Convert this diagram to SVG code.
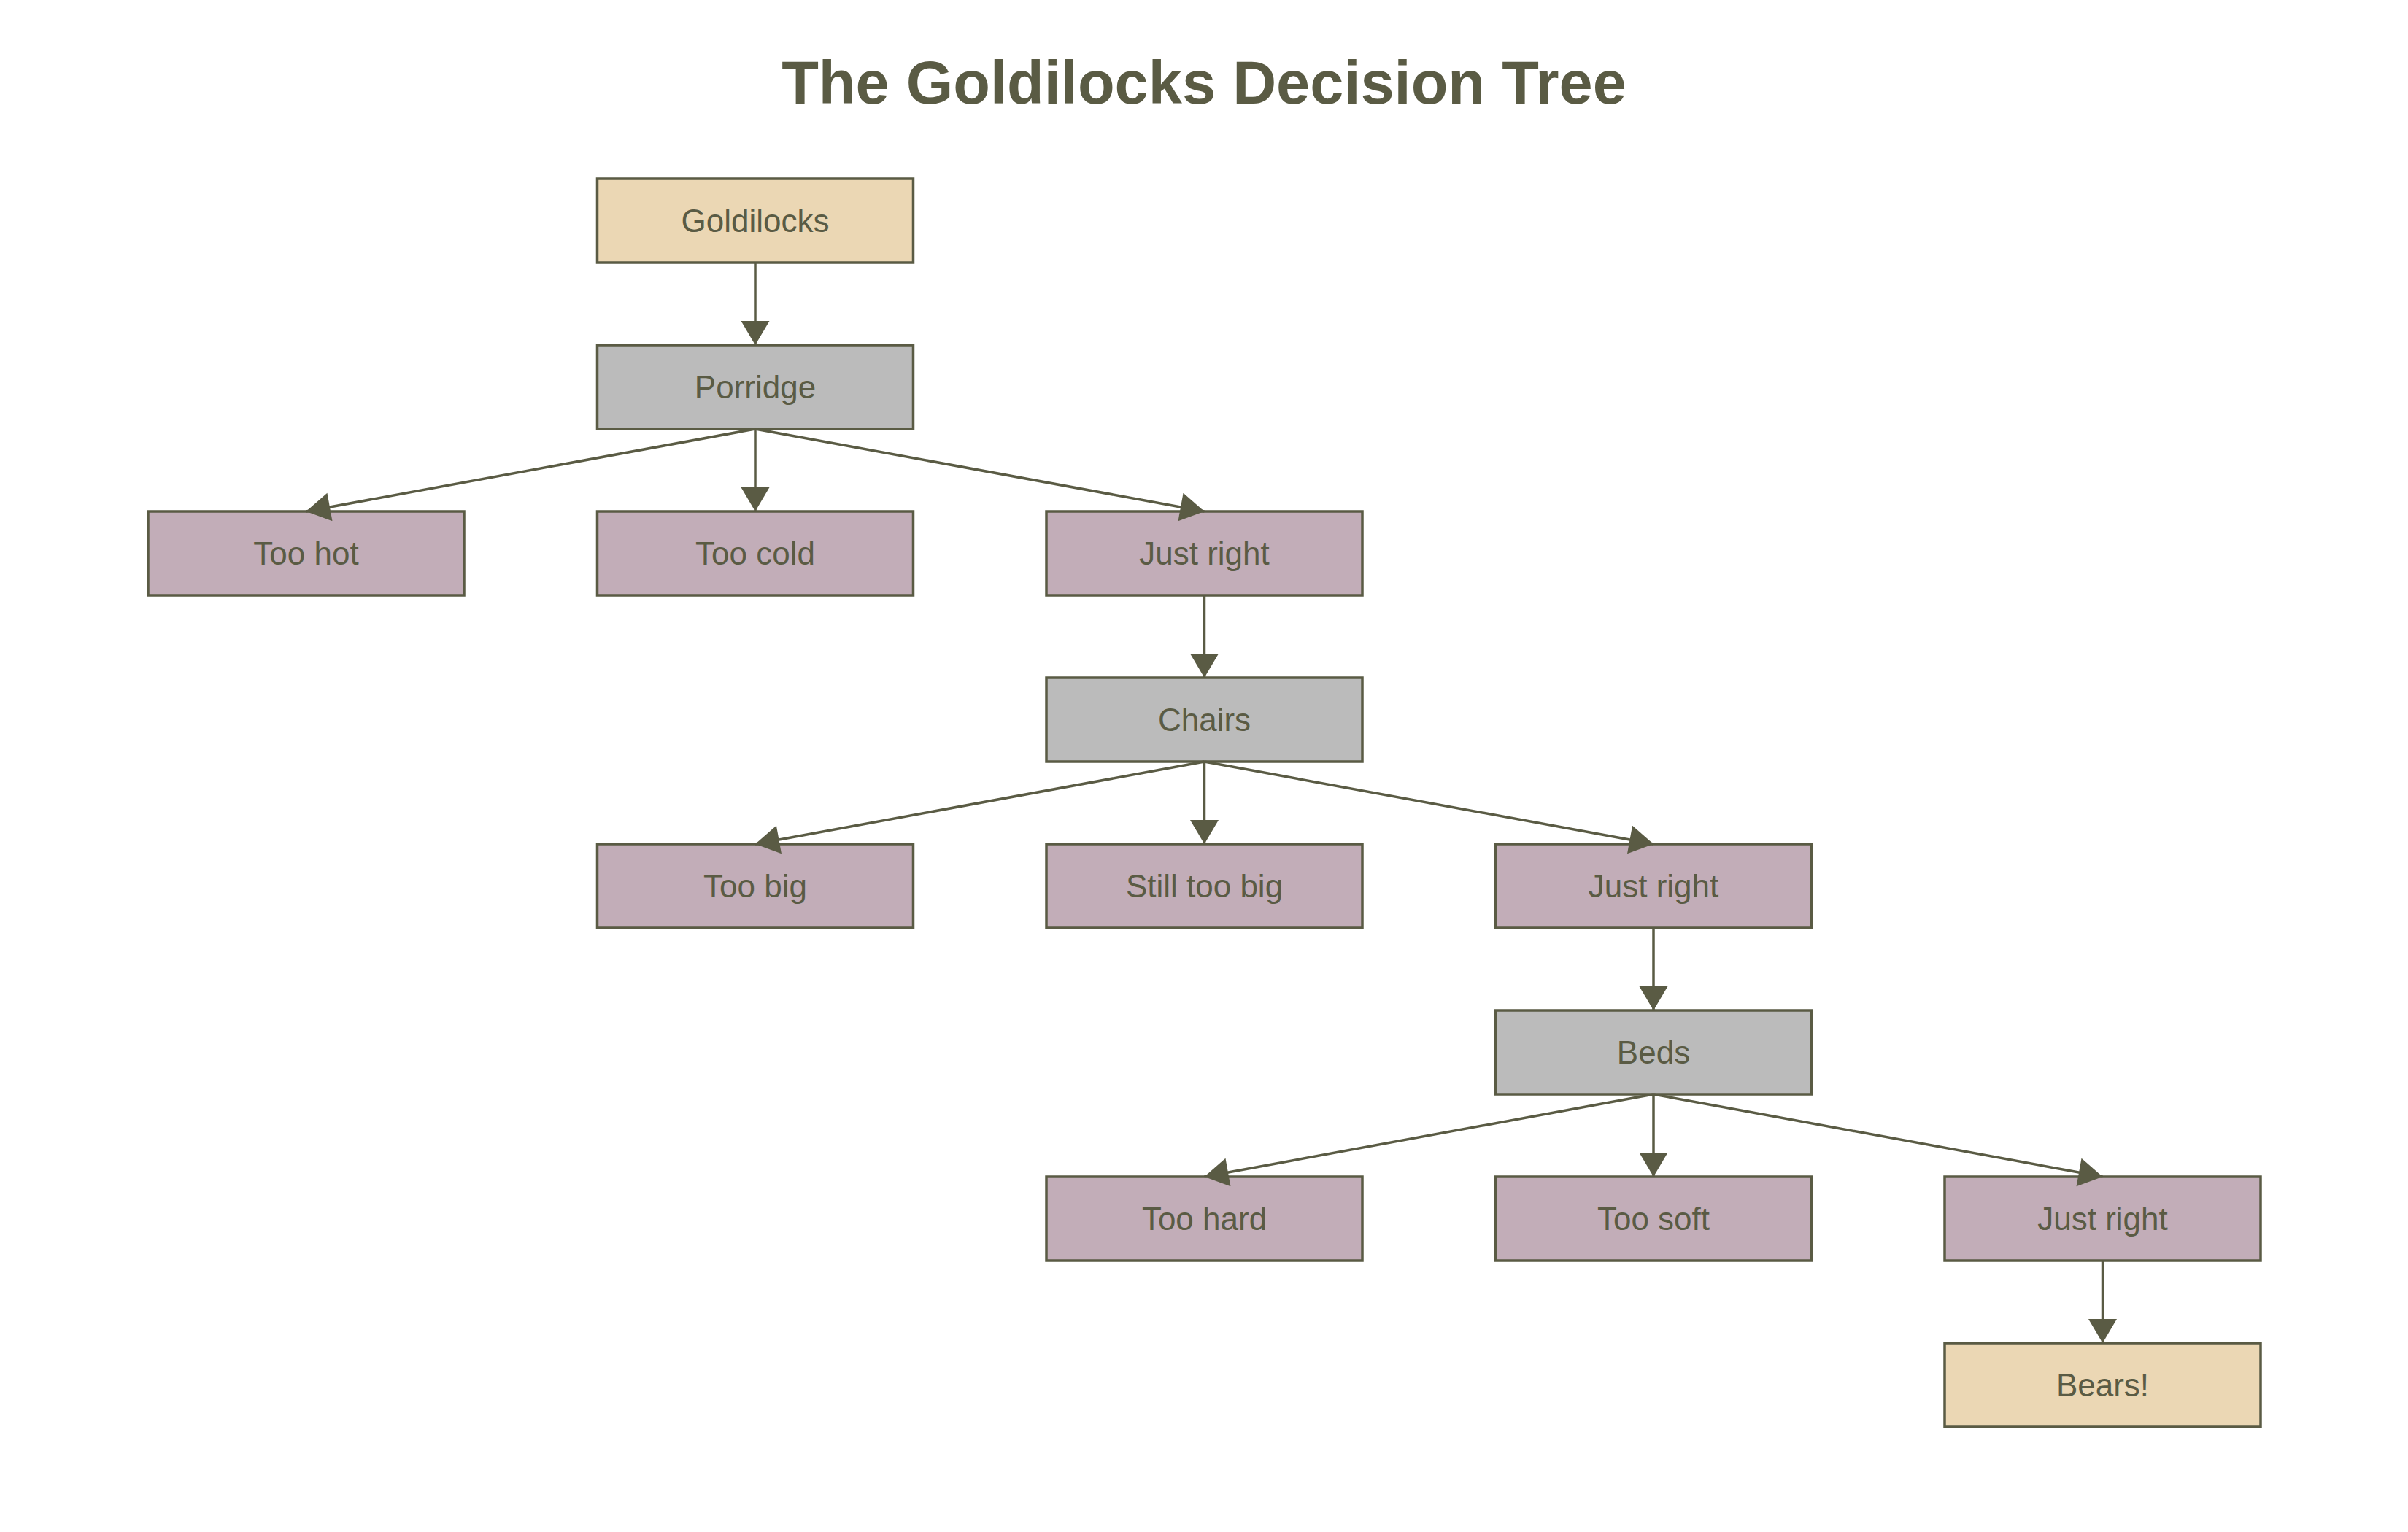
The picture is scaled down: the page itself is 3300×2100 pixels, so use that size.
<svg xmlns="http://www.w3.org/2000/svg" width="3300" height="2100" viewBox="0 0 3300 2100">
<style>
.n rect{stroke:#5a5b44;stroke-width:3.5}
.start rect{fill:#ebd7b4}
.cat rect{fill:#bbbbbb}
.opt rect{fill:#c2adb8}
.n text{font-family:"Liberation Sans",Arial,sans-serif;font-size:44px;fill:#5a5b44;text-anchor:middle}
.e line{stroke:#5a5b44;stroke-width:3.5;fill:none}
.title{font-family:"Liberation Sans",Arial,sans-serif;font-size:83px;font-weight:bold;fill:#5a5b44;text-anchor:middle}
</style>
<defs>
<marker id="ah" markerUnits="userSpaceOnUse" markerWidth="40" markerHeight="40" refX="33" refY="19.5" orient="auto" viewBox="0 0 34 40">
<path d="M0,0 L33,19.5 L0,39 Z" fill="#5a5b44"/>
</marker>
</defs>
<rect width="3300" height="2100" fill="#ffffff"/>
<text class="title" x="1650" y="142">The Goldilocks Decision Tree</text>
<g id="goldilocks" class="n start"><rect x="818.5" y="245" width="433" height="115"/><text x="1035" y="318">Goldilocks</text></g>
<g id="porridge" class="n cat"><rect x="818.5" y="473" width="433" height="115"/><text x="1035" y="546">Porridge</text></g>
<g id="too-hot" class="n opt"><rect x="203" y="701" width="433" height="115"/><text x="419.5" y="774">Too hot</text></g>
<g id="too-cold" class="n opt"><rect x="818.5" y="701" width="433" height="115"/><text x="1035" y="774">Too cold</text></g>
<g id="just-right-porridge" class="n opt"><rect x="1434" y="701" width="433" height="115"/><text x="1650.5" y="774">Just right</text></g>
<g id="chairs" class="n cat"><rect x="1434" y="929" width="433" height="115"/><text x="1650.5" y="1002">Chairs</text></g>
<g id="too-big" class="n opt"><rect x="818.5" y="1157" width="433" height="115"/><text x="1035" y="1230">Too big</text></g>
<g id="still-too-big" class="n opt"><rect x="1434" y="1157" width="433" height="115"/><text x="1650.5" y="1230">Still too big</text></g>
<g id="just-right-chairs" class="n opt"><rect x="2049.5" y="1157" width="433" height="115"/><text x="2266" y="1230">Just right</text></g>
<g id="beds" class="n cat"><rect x="2049.5" y="1385" width="433" height="115"/><text x="2266" y="1458">Beds</text></g>
<g id="too-hard" class="n opt"><rect x="1434" y="1613" width="433" height="115"/><text x="1650.5" y="1686">Too hard</text></g>
<g id="too-soft" class="n opt"><rect x="2049.5" y="1613" width="433" height="115"/><text x="2266" y="1686">Too soft</text></g>
<g id="just-right-beds" class="n opt"><rect x="2665" y="1613" width="433" height="115"/><text x="2881.5" y="1686">Just right</text></g>
<g id="bears" class="n start"><rect x="2665" y="1841" width="433" height="115"/><text x="2881.5" y="1914">Bears!</text></g>
<g id="edges" class="e">
<line x1="1035" y1="360" x2="1035" y2="473" marker-end="url(#ah)"/>
<line x1="1035" y1="588" x2="419.5" y2="701" marker-end="url(#ah)"/>
<line x1="1035" y1="588" x2="1035" y2="701" marker-end="url(#ah)"/>
<line x1="1035" y1="588" x2="1650.5" y2="701" marker-end="url(#ah)"/>
<line x1="1650.5" y1="816" x2="1650.5" y2="929" marker-end="url(#ah)"/>
<line x1="1650.5" y1="1044" x2="1035" y2="1157" marker-end="url(#ah)"/>
<line x1="1650.5" y1="1044" x2="1650.5" y2="1157" marker-end="url(#ah)"/>
<line x1="1650.5" y1="1044" x2="2266" y2="1157" marker-end="url(#ah)"/>
<line x1="2266" y1="1272" x2="2266" y2="1385" marker-end="url(#ah)"/>
<line x1="2266" y1="1500" x2="1650.5" y2="1613" marker-end="url(#ah)"/>
<line x1="2266" y1="1500" x2="2266" y2="1613" marker-end="url(#ah)"/>
<line x1="2266" y1="1500" x2="2881.5" y2="1613" marker-end="url(#ah)"/>
<line x1="2881.5" y1="1728" x2="2881.5" y2="1841" marker-end="url(#ah)"/>
</g>
</svg>
